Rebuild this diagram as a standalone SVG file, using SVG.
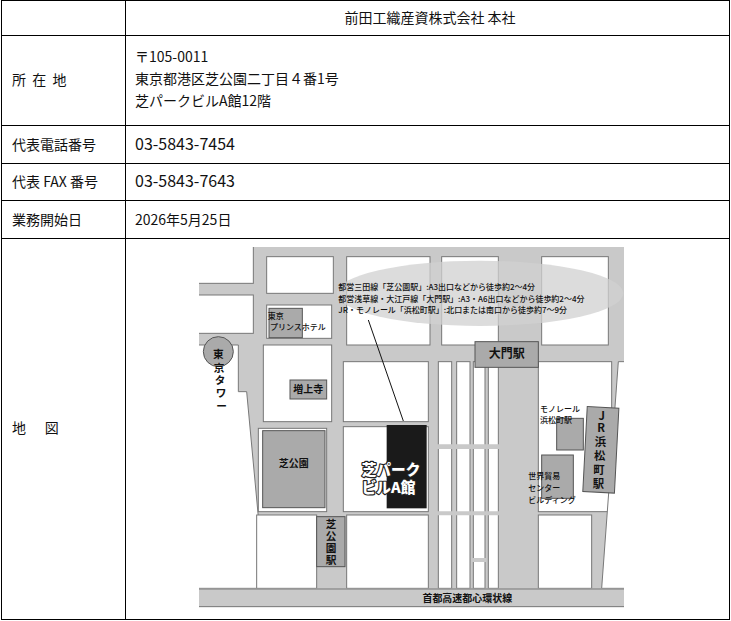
<svg xmlns="http://www.w3.org/2000/svg" width="731" height="621" viewBox="0 0 731 621">
<style>
text{font-family:"Noto Sans CJK JP","Noto Sans",sans-serif;fill:#111}
.t{font-size:14px}
.g{stroke:#000;stroke-width:1;fill:none}
.b{fill:#fff;stroke:#777;stroke-width:3}
.lb{fill:#aaa;stroke:#555;stroke-width:3}
.m{font-size:30px;font-weight:bold;fill:#222}
.s{font-size:24px;fill:#222;font-weight:500}
.w{fill:#fff;stroke:#222;stroke-width:7;paint-order:stroke;stroke-linejoin:round;font-size:44px;font-weight:900}
</style>
<rect width="731" height="621" fill="#fff"/>
<g id="table" class="g">
<rect x="1.5" y="0.5" width="728" height="619"/>
<line x1="125.5" y1="0" x2="125.5" y2="620"/>
<line x1="1" y1="35.5" x2="730" y2="35.5"/>
<line x1="1" y1="125.5" x2="730" y2="125.5"/>
<line x1="1" y1="163.5" x2="730" y2="163.5"/>
<line x1="1" y1="200.5" x2="730" y2="200.5"/>
<line x1="1" y1="238.5" x2="730" y2="238.5"/>
</g>
<g id="texts" class="t">
<text x="430" y="23" text-anchor="middle">前田工織産資株式会社  本社</text>
<text x="12" y="85" xml:space="preserve">所  在  地</text>
<text x="135" y="62">〒105-0011</text>
<text x="135" y="84">東京都港区芝公園二丁目４番1号</text>
<text x="135" y="106">芝パークビルA館12階</text>
<text x="12" y="150">代表電話番号</text>
<text x="135" y="150" font-size="16">03-5843-7454</text>
<text x="12" y="187">代表 FAX 番号</text>
<text x="135" y="187" font-size="16">03-5843-7643</text>
<text x="12" y="225">業務開始日</text>
<text x="135" y="225">2026年5月25日</text>
<text x="12" y="433" xml:space="preserve">地      図</text>
</g>
<defs><clipPath id="mc"><rect x="12" y="6" width="1275" height="1089"/></clipPath></defs>
<g id="map" transform="translate(195,245) scale(0.33333)">
<g clip-path="url(#mc)">
<rect x="0" y="0" width="1300" height="1100" fill="#c9c9c9"/>
<rect class="b" x="0" y="0" width="175" height="115"/>
<rect class="b" x="0" y="150" width="175" height="115"/>
<polygon class="b" points="0,300 130,300 130,440 155,440 210,1030 0,1030"/>
<rect class="b" x="215" y="180" width="195" height="100"/>
<rect class="b" x="205" y="300" width="205" height="230"/>
<rect class="b" x="190" y="550" width="205" height="250"/>
<rect class="b" x="185" y="810" width="180" height="220"/>
<rect class="b" x="455" y="810" width="245" height="220"/>
<rect class="b" x="445" y="350" width="255" height="180"/>
<rect class="b" x="445" y="545" width="255" height="255"/>
<rect class="b" x="455" y="35" width="250" height="265"/>
<rect class="b" x="740" y="35" width="170" height="265"/>
<rect class="b" x="1040" y="35" width="200" height="265"/>
<rect class="b" x="215" y="35" width="200" height="110"/>
<rect class="b" x="730" y="350" width="40" height="680"/>
<rect class="b" x="785" y="350" width="40" height="680"/>
<rect class="b" x="835" y="350" width="35" height="680"/>
<rect class="b" x="880" y="350" width="30" height="680"/>
<line x1="720" y1="605" x2="915" y2="605" stroke="#c9c9c9" stroke-width="14"/>
<line x1="720" y1="805" x2="915" y2="805" stroke="#c9c9c9" stroke-width="12"/>
<line x1="830" y1="945" x2="875" y2="945" stroke="#c9c9c9" stroke-width="12"/>
<rect class="b" x="1030" y="350" width="220" height="450"/>
<rect class="b" x="1030" y="810" width="160" height="220"/>
<polygon class="b" points="1270,350 1300,350 1300,1030 1220,1030"/>
<ellipse cx="855" cy="145" rx="430" ry="98" fill="#d0d0d0" opacity="0.75"/>
<rect x="0" y="1030" width="1300" height="55" fill="#c9c9c9"/>
<line x1="0" y1="1032" x2="1300" y2="1032" stroke="#777" stroke-width="3"/>
<line x1="0" y1="1085" x2="1300" y2="1085" stroke="#777" stroke-width="3"/>
<rect x="0" y="1087" width="1300" height="20" fill="#fff"/>
</g>
<line x1="520" y1="225" x2="625" y2="528" stroke="#111" stroke-width="3"/>
<rect x="575" y="540" width="120" height="250" fill="#1a1a1a"/>
<rect class="lb" x="222" y="190" width="100" height="88"/>
<rect class="lb" x="285" y="405" width="110" height="57"/>
<rect class="lb" x="203" y="557" width="187" height="231"/>
<rect class="lb" x="365" y="815" width="85" height="150"/>
<rect class="lb" x="840" y="290" width="190" height="77"/>
<rect class="lb" x="1085" y="520" width="80" height="95"/>
<rect class="lb" x="1040" y="630" width="95" height="130"/>
<rect class="lb" x="1170" y="487" width="95" height="255" transform="rotate(3 1217 615)"/>
<circle cx="70" cy="320" r="45" fill="#aaa" stroke="#555" stroke-width="3"/>
<g class="s">
<text x="430" y="135">都営三田線「芝公園駅」:A3出口などから徒歩約2～4分</text>
<text x="430" y="170">都営浅草線・大江戸線「大門駅」:A3・A6出口などから徒歩約2～4分</text>
<text x="430" y="205">JR・モノレール「浜松町駅」:北口または南口から徒歩約7～9分</text>
<text x="218" y="222">東京</text>
<text x="225" y="255">プリンスホテル</text>
<text x="1035" y="502">モノレール</text>
<text x="1035" y="535">浜松町駅</text>
<text x="1000" y="702">世界貿易</text>
<text x="1000" y="738">センター</text>
<text x="1000" y="774">ビルディング</text>
</g>
<g class="m">
<text x="340" y="445" text-anchor="middle">増上寺</text>
<text x="296" y="665" text-anchor="middle">芝公園</text>
<text x="935" y="340" text-anchor="middle" font-size="36">大門駅</text>
<text x="817" y="1070" text-anchor="middle">首都高速都心環状線</text>
<text class="w" x="500" y="690">芝パーク</text>
<text class="w" x="500" y="745">ビルA館</text>
<g text-anchor="middle" font-size="32">
<text x="408" y="848">芝</text><text x="408" y="884">公</text><text x="408" y="920">園</text><text x="408" y="956">駅</text>
<text x="70" y="338">東</text><text x="72" y="380">京</text><text x="75" y="418">タ</text><text x="78" y="456">ワ</text><text x="80" y="494">ー</text>
</g>
<g text-anchor="middle" font-size="34">
<text x="1220" y="525">J</text><text x="1218" y="562">R</text><text x="1216" y="602">浜</text><text x="1214" y="644">松</text><text x="1212" y="686">町</text><text x="1210" y="728">駅</text>
</g>
</g>
</g>
</svg>
